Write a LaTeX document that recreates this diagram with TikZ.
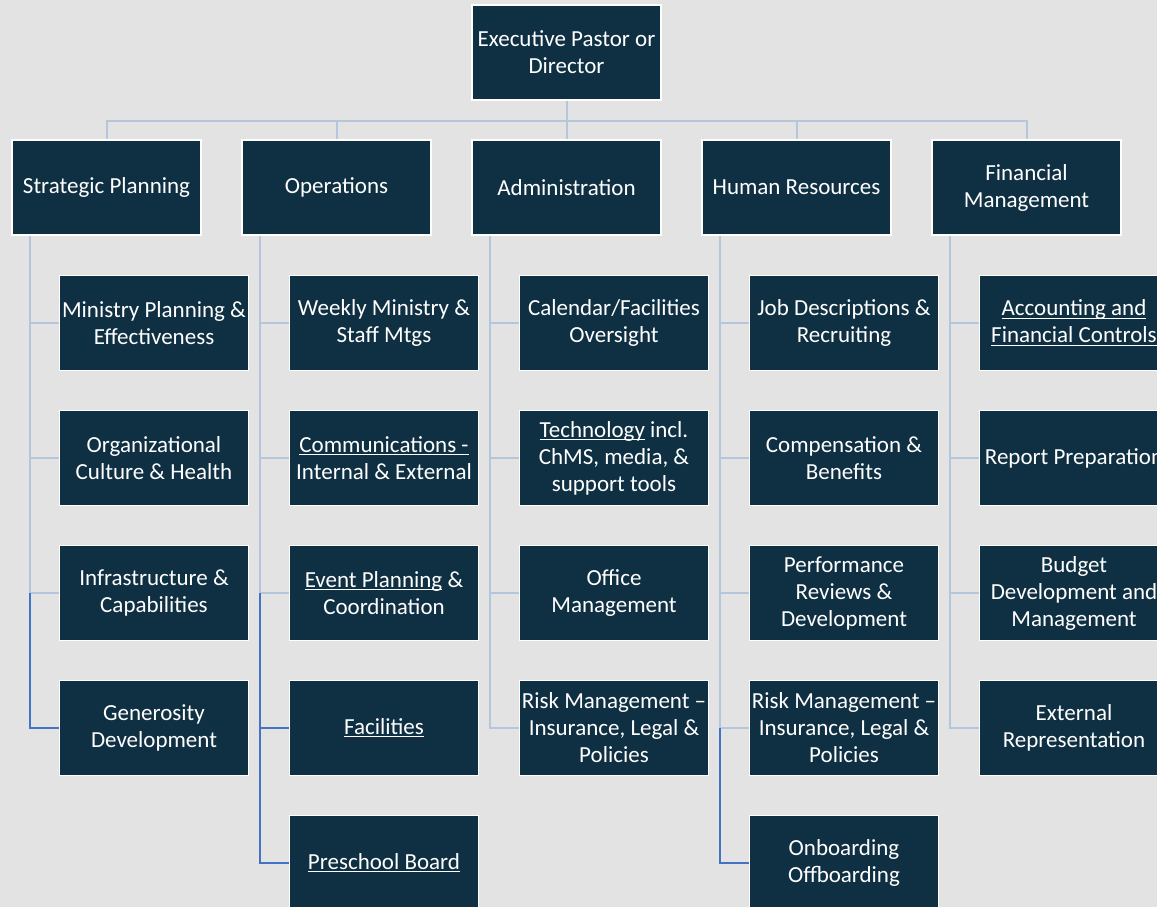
\documentclass[tikz,border=0pt]{standalone}
\usepackage{fontspec}
\setmainfont{Carlito}
\definecolor{bgc}{HTML}{E3E3E3}
\definecolor{navy}{HTML}{0F3043}
\definecolor{lightln}{HTML}{B4C6DB}
\definecolor{darkln}{HTML}{4472C4}
\newcommand\myul[1]{\setbox0\hbox{#1}\rlap{\rule[-3pt]{\wd0}{1.3pt}}\box0\relax}
\tikzset{
  orgbox/.style={fill=navy, draw=white, line width=1.5pt, minimum width=189pt, minimum height=95pt,
    inner sep=0pt, text=white, align=center, font=\fontsize{23}{27}\selectfont},
  conn/.style={draw=lightln, line width=2pt},
  dconn/.style={draw=darkln, line width=2pt}
}
\begin{document}
\begin{tikzpicture}[x=1pt,y=-1pt]
\useasboundingbox (0,0) rectangle (1157,907);
\clip (0,0) rectangle (1157,907);
\fill[bgc] (0,0) rectangle (1157,907);

% top
\node[orgbox] (top) at (566.5,52.5) {Executive Pastor or\\Director};
% level 1
\node[orgbox] (sp) at (106.5,187.5) {Strategic Planning};
\node[orgbox] (op) at (336.5,187.5) {Operations};
\node[orgbox] (ad) at (566.5,187.5) {Administration};
\node[orgbox] (hr) at (796.5,187.5) {Human Resources};
\node[orgbox] (fm) at (1026.5,187.5) {Financial\\Management};

\foreach \n in {sp,op,ad,hr,fm}{
  \draw[conn] (top.south) -- ++(0,20) -| (\n.north);
}

% Strategic children
\node[orgbox] (sp1) at (154,323) {Ministry Planning \&\\Effectiveness};
\node[orgbox] (sp2) at (154,458) {Organizational\\Culture \& Health};
\node[orgbox] (sp3) at (154,593) {Infrastructure \&\\Capabilities};
\node[orgbox] (sp4) at (154,728) {Generosity\\Development};
% Operations children
\node[orgbox] (op1) at (384,323) {Weekly Ministry \&\\Staff Mtgs};
\node[orgbox] (op2) at (384,458) {\myul{Communications -}\\Internal \& External};
\node[orgbox] (op3) at (384,593) {\myul{Event Planning} \&\\Coordination};
\node[orgbox] (op4) at (384,728) {\myul{Facilities}};
\node[orgbox] (op5) at (384,863) {\myul{Preschool Board}};
% Administration children
\node[orgbox] (ad1) at (614,323) {Calendar/Facilities\\Oversight};
\node[orgbox] (ad2) at (614,458) {\myul{Technology} incl.\\ChMS, media, \&\\support tools};
\node[orgbox] (ad3) at (614,593) {Office\\Management};
\node[orgbox] (ad4) at (614,728) {Risk Management –\\Insurance, Legal \&\\Policies};
% HR children
\node[orgbox] (hr1) at (844,323) {Job Descriptions \&\\Recruiting};
\node[orgbox] (hr2) at (844,458) {Compensation \&\\Benefits};
\node[orgbox] (hr3) at (844,593) {Performance\\Reviews \&\\Development};
\node[orgbox] (hr4) at (844,728) {Risk Management –\\Insurance, Legal \&\\Policies};
\node[orgbox] (hr5) at (844,863) {Onboarding\\Offboarding};
% Financial children
\node[orgbox] (fm1) at (1074,323) {\myul{Accounting and}\\\myul{Financial Controls}};
\node[orgbox] (fm2) at (1074,458) {Report Preparation};
\node[orgbox] (fm3) at (1074,593) {Budget\\Development and\\Management};
\node[orgbox] (fm4) at (1074,728) {External\\Representation};

% spine coordinates
\foreach \n in {sp,op,ad,hr,fm}{
  \coordinate (\n x) at ([xshift=19pt]\n.south west);
}

% connectors
\foreach \c in {sp1,sp2,sp3}{ \draw[conn] (spx) |- (\c.west); }
\draw[dconn] (sp3.west -| spx) |- (sp4.west);

\foreach \c in {op1,op2,op3}{ \draw[conn] (opx) |- (\c.west); }
\draw[dconn] (op3.west -| opx) |- (op4.west);
\draw[dconn] (op3.west -| opx) |- (op5.west);

\foreach \c in {ad1,ad2,ad3,ad4}{ \draw[conn] (adx) |- (\c.west); }

\foreach \c in {hr1,hr2,hr3,hr4}{ \draw[conn] (hrx) |- (\c.west); }
\draw[dconn] (hr4.west -| hrx) |- (hr5.west);

\foreach \c in {fm1,fm2,fm3,fm4}{ \draw[conn] (fmx) |- (\c.west); }
\end{tikzpicture}
\end{document}
